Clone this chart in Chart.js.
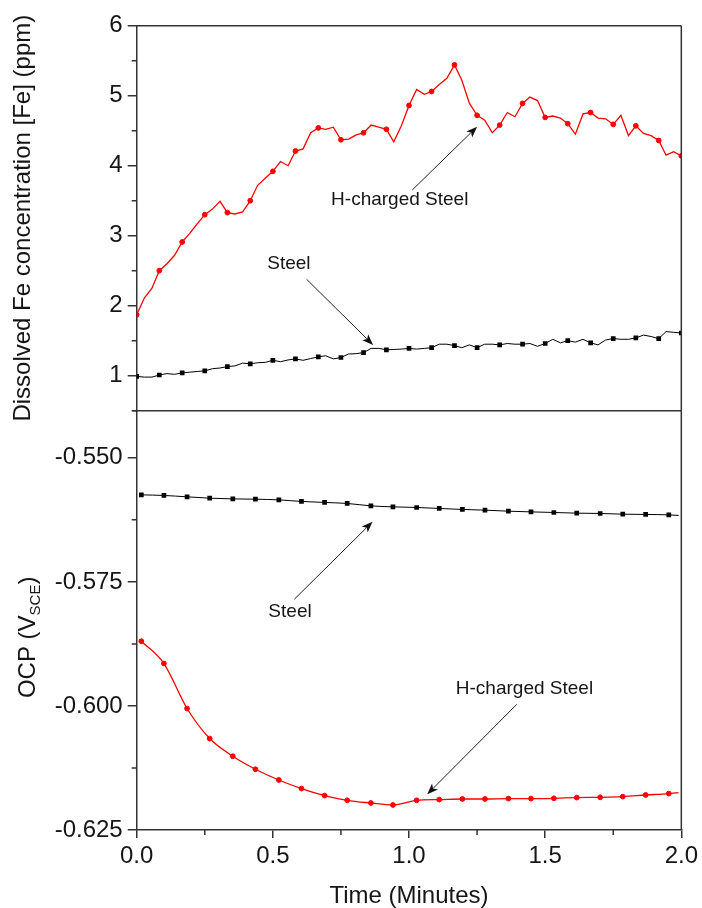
<!DOCTYPE html>
<html><head><meta charset="utf-8">
<script src="https://cdn.jsdelivr.net/npm/chart.js@4.4.1/dist/chart.umd.min.js"></script>
<style>html,body{margin:0;padding:0;background:#fff}#wrap{width:702px;height:908px;position:relative}canvas{display:block}</style>
</head><body><div id="wrap"><canvas id="c" width="702" height="908"></canvas></div>
<script>
// ---- data ----
const feTime = [0, 0.028, 0.056, 0.083, 0.111, 0.139, 0.167, 0.194, 0.222, 0.25, 0.278, 0.306, 0.333, 0.361, 0.389, 0.417, 0.444, 0.472, 0.5, 0.528, 0.556, 0.583, 0.611, 0.639, 0.667, 0.694, 0.722, 0.75, 0.778, 0.806, 0.833, 0.861, 0.889, 0.917, 0.944, 0.972, 1.0, 1.028, 1.056, 1.083, 1.111, 1.139, 1.167, 1.194, 1.222, 1.25, 1.278, 1.306, 1.333, 1.361, 1.389, 1.417, 1.444, 1.472, 1.5, 1.528, 1.556, 1.583, 1.611, 1.639, 1.667, 1.694, 1.722, 1.75, 1.778, 1.806, 1.833, 1.861, 1.889, 1.917, 1.944, 1.972, 2.0];
const feHCharged = [1.87, 2.11, 2.25, 2.50, 2.60, 2.72, 2.91, 3.03, 3.17, 3.30, 3.38, 3.49, 3.33, 3.31, 3.34, 3.50, 3.72, 3.82, 3.92, 4.06, 4.00, 4.21, 4.24, 4.47, 4.54, 4.52, 4.55, 4.37, 4.38, 4.44, 4.47, 4.58, 4.55, 4.52, 4.34, 4.57, 4.86, 5.09, 5.02, 5.06, 5.16, 5.25, 5.44, 5.22, 4.89, 4.72, 4.65, 4.47, 4.58, 4.76, 4.70, 4.89, 4.98, 4.93, 4.69, 4.71, 4.68, 4.60, 4.45, 4.74, 4.76, 4.68, 4.67, 4.59, 4.72, 4.43, 4.57, 4.46, 4.43, 4.36, 4.15, 4.20, 4.14];
const feSteel = [0.99, 0.98, 0.98, 1.01, 1.03, 1.02, 1.04, 1.05, 1.06, 1.07, 1.10, 1.11, 1.13, 1.14, 1.18, 1.17, 1.185, 1.19, 1.22, 1.20, 1.225, 1.24, 1.22, 1.245, 1.27, 1.285, 1.24, 1.26, 1.31, 1.315, 1.33, 1.39, 1.39, 1.37, 1.375, 1.38, 1.39, 1.38, 1.39, 1.40, 1.45, 1.45, 1.43, 1.40, 1.44, 1.40, 1.45, 1.45, 1.44, 1.46, 1.45, 1.45, 1.46, 1.42, 1.46, 1.52, 1.47, 1.50, 1.48, 1.52, 1.47, 1.44, 1.51, 1.53, 1.52, 1.52, 1.54, 1.58, 1.56, 1.53, 1.63, 1.62, 1.61];

const ocpTime = [0.017, 0.100, 0.185, 0.268, 0.353, 0.436, 0.522, 0.605, 0.690, 0.773, 0.860, 0.941, 1.028, 1.111, 1.196, 1.279, 1.365, 1.448, 1.532, 1.616, 1.702, 1.785, 1.869, 1.954, 1.990];
const ocpHCharged = [-0.58696, -0.59145, -0.60052, -0.60657, -0.61014, -0.61276, -0.61492, -0.61665, -0.61806, -0.61901, -0.61956, -0.61996, -0.61901, -0.61887, -0.61875, -0.61875, -0.61867, -0.61867, -0.61861, -0.61847, -0.61841, -0.61827, -0.61795, -0.61766, -0.61746];
const ocpSteel = [-0.55746, -0.55758, -0.55786, -0.55813, -0.55827, -0.55833, -0.55847, -0.55879, -0.55899, -0.55919, -0.55968, -0.55988, -0.56000, -0.56020, -0.56040, -0.56054, -0.56075, -0.56089, -0.56101, -0.56115, -0.56121, -0.56135, -0.56141, -0.56149, -0.56161];

const xTicks = [0, 0.5, 1.0, 1.5, 2.0];
const xMinorTicks = [0.25, 0.75, 1.25, 1.75];
const feTicks = [1, 2, 3, 4, 5, 6];
const feMinorTicks = [0.5, 1.5, 2.5, 3.5, 4.5, 5.5];
const ocpTicks = [-0.625, -0.600, -0.575, -0.550];
const ocpMinorTicks = [-0.6125, -0.5875, -0.5625];

const xTitle = 'Time (Minutes)';
const feTitle = 'Dissolved Fe concentration [Fe] (ppm)';
const ocpTitleMain = 'OCP (V';
const ocpTitleSub = 'SCE';
const ocpTitleEnd = ')';

const noteTexts = ['H-charged Steel', 'Steel', 'Steel', 'H-charged Steel'];
const noteAxes = ['yFe', 'yFe', 'yOcp', 'yOcp'];
const noteAt = [[0.966, 3.51], [0.559, 2.606], [0.563, -0.58097], [1.424, -0.59649]];
const noteArrowFrom = [[1.012, 3.653], [0.624, 2.377], [0.579, -0.57849], [1.396, -0.59966]];
const noteArrowTo = [[1.250, 4.557], [0.868, 1.44], [0.866, -0.5629], [1.067, -0.61780]];

// ---- styling ----
const FONT = '"Liberation Sans", Arial, Helvetica, sans-serif';
const AXIS = '#333333';
const TEXT = '#151515';
const RED = '#ff0000';
const BLACK = '#000000';
const markerEvery = 3;

Chart.defaults.font.family = FONT;
Chart.defaults.color = TEXT;

const pts = (xs, ys) => xs.map((x, i) => ({x: x, y: ys[i]}));

const extras = {
  id: 'extras',
  afterDatasetsDraw(chart) {
    const {ctx, chartArea: a, scales} = chart;
    const xs = scales.x, yf = scales.yFe, yo = scales.yOcp;
    ctx.save();
    // frame
    ctx.strokeStyle = AXIS;
    ctx.lineWidth = 1.5;
    ctx.beginPath();
    ctx.moveTo(a.left, a.top); ctx.lineTo(a.right, a.top);
    ctx.moveTo(a.right, a.top); ctx.lineTo(a.right, a.bottom);
    ctx.moveTo(a.left - 4, yf.bottom); ctx.lineTo(a.right, yf.bottom);
    ctx.stroke();
    // minor ticks
    ctx.beginPath();
    xMinorTicks.forEach(v => { const p = xs.getPixelForValue(v); ctx.moveTo(p, a.bottom); ctx.lineTo(p, a.bottom + 5); });
    feMinorTicks.forEach(v => { const p = yf.getPixelForValue(v); ctx.moveTo(a.left, p); ctx.lineTo(a.left - 5, p); });
    ocpMinorTicks.forEach(v => { const p = yo.getPixelForValue(v); ctx.moveTo(a.left, p); ctx.lineTo(a.left - 5, p); });
    ctx.stroke();
    // annotations
    ctx.font = '19px ' + FONT;
    ctx.fillStyle = TEXT;
    ctx.textAlign = 'center';
    ctx.textBaseline = 'middle';
    noteTexts.forEach((t, i) => {
      const ys = scales[noteAxes[i]];
      ctx.fillText(t, xs.getPixelForValue(noteAt[i][0]), ys.getPixelForValue(noteAt[i][1]));
      const x1 = xs.getPixelForValue(noteArrowFrom[i][0]), y1 = ys.getPixelForValue(noteArrowFrom[i][1]);
      const x2 = xs.getPixelForValue(noteArrowTo[i][0]), y2 = ys.getPixelForValue(noteArrowTo[i][1]);
      const ang = Math.atan2(y2 - y1, x2 - x1);
      const L = 11, W = 4.2;
      ctx.strokeStyle = '#222';
      ctx.lineWidth = 1;
      ctx.beginPath();
      ctx.moveTo(x1, y1);
      ctx.lineTo(x2 - Math.cos(ang) * L * 0.8, y2 - Math.sin(ang) * L * 0.8);
      ctx.stroke();
      ctx.fillStyle = '#111';
      ctx.beginPath();
      ctx.moveTo(x2, y2);
      ctx.lineTo(x2 - Math.cos(ang) * L - Math.sin(ang) * W, y2 - Math.sin(ang) * L + Math.cos(ang) * W);
      ctx.lineTo(x2 - Math.cos(ang) * L * 0.75, y2 - Math.sin(ang) * L * 0.75);
      ctx.lineTo(x2 - Math.cos(ang) * L + Math.sin(ang) * W, y2 - Math.sin(ang) * L - Math.cos(ang) * W);
      ctx.closePath();
      ctx.fill();
      ctx.fillStyle = TEXT;
    });
    // OCP axis title with subscript
    const big = '24px ' + FONT, small = '15px ' + FONT;
    ctx.font = big; const w1 = ctx.measureText(ocpTitleMain).width; const w3 = ctx.measureText(ocpTitleEnd).width;
    ctx.font = small; const w2 = ctx.measureText(ocpTitleSub).width;
    const total = w1 + w2 + w3;
    const cy = (yo.top + yo.bottom) / 2 + 17;
    ctx.translate(35, cy);
    ctx.rotate(-Math.PI / 2);
    ctx.textAlign = 'left';
    ctx.textBaseline = 'alphabetic';
    ctx.fillStyle = TEXT;
    let px = -total / 2;
    ctx.font = big; ctx.fillText(ocpTitleMain, px, 0); px += w1;
    ctx.font = small; ctx.fillText(ocpTitleSub, px, 5); px += w2;
    ctx.font = big; ctx.fillText(ocpTitleEnd, px, 0);
    ctx.restore();
  }
};

const gridOpts = (len) => ({drawOnChartArea: false, drawTicks: true, tickLength: len, color: AXIS, lineWidth: 1.5});
const borderOpts = {display: true, color: AXIS, width: 1.5};

new Chart(document.getElementById('c'), {
  type: 'line',
  data: {
    datasets: [
      {label: 'H-charged Steel [Fe]', data: pts(feTime, feHCharged), xAxisID: 'x', yAxisID: 'yFe',
       borderColor: RED, backgroundColor: RED, borderWidth: 1.3, tension: 0,
       pointStyle: 'circle', pointRadius: c => c.dataIndex % markerEvery === 0 ? 2.4 : 0, pointBorderWidth: 1, pointBorderColor: RED, pointBackgroundColor: RED},
      {label: 'Steel [Fe]', data: pts(feTime, feSteel), xAxisID: 'x', yAxisID: 'yFe',
       borderColor: BLACK, backgroundColor: BLACK, borderWidth: 1, tension: 0,
       pointStyle: 'rect', pointRadius: c => c.dataIndex % markerEvery === 0 ? 3.3 : 0, pointBorderWidth: 0, pointBackgroundColor: BLACK},
      {label: 'Steel OCP', data: pts(ocpTime, ocpSteel), xAxisID: 'x', yAxisID: 'yOcp',
       borderColor: BLACK, backgroundColor: BLACK, borderWidth: 1, cubicInterpolationMode: 'monotone',
       pointStyle: 'rect', pointRadius: c => c.dataIndex < ocpTime.length - 1 ? 3.3 : 0, pointBorderWidth: 0, pointBackgroundColor: BLACK},
      {label: 'H-charged Steel OCP', data: pts(ocpTime, ocpHCharged), xAxisID: 'x', yAxisID: 'yOcp',
       borderColor: RED, backgroundColor: RED, borderWidth: 1.3, cubicInterpolationMode: 'monotone',
       pointStyle: 'circle', pointRadius: c => c.dataIndex < ocpTime.length - 1 ? 2.4 : 0, pointBorderWidth: 1, pointBorderColor: RED, pointBackgroundColor: RED}
    ]
  },
  options: {
    responsive: false,
    animation: false,
    devicePixelRatio: 1,
    events: [],
    layout: {padding: {top: 25.7, right: 18.7, left: 0, bottom: 0}},
    plugins: {legend: {display: false}, tooltip: {enabled: false}},
    scales: {
      x: {
        type: 'linear', position: 'bottom', min: 0, max: 2,
        afterBuildTicks: s => { s.ticks = xTicks.map(v => ({value: v})); },
        afterFit: s => { s.height = 78; },
        ticks: {callback: v => Number(v).toFixed(1), font: {size: 24}, color: TEXT, padding: 4, autoSkip: false, maxRotation: 0},
        grid: gridOpts(8), border: borderOpts,
        title: {display: true, text: xTitle, font: {size: 24, lineHeight: 1}, color: TEXT, padding: 0}
      },
      yOcp: {
        type: 'linear', position: 'left', stack: 'panels', stackWeight: 419.3, min: -0.625, max: -0.5405,
        afterBuildTicks: s => { s.ticks = ocpTicks.map(v => ({value: v})); },
        afterFit: s => { s.width = 136.7; },
        ticks: {callback: v => Number(v).toFixed(3), font: {size: 24}, color: TEXT, padding: 5},
        grid: gridOpts(9), border: borderOpts,
        title: {display: false}
      },
      yFe: {
        type: 'linear', position: 'left', stack: 'panels', stackWeight: 385, min: 0.5, max: 6,
        afterBuildTicks: s => { s.ticks = feTicks.map(v => ({value: v})); },
        afterFit: s => { s.width = 136.7; },
        ticks: {callback: v => String(v), font: {size: 24}, color: TEXT, padding: 5},
        grid: gridOpts(9), border: borderOpts,
        title: {display: true, text: feTitle, font: {size: 24, lineHeight: 1}, color: TEXT, padding: {top: 11, bottom: 0}}
      }
    }
  },
  plugins: [extras]
});
</script>
</body></html>
